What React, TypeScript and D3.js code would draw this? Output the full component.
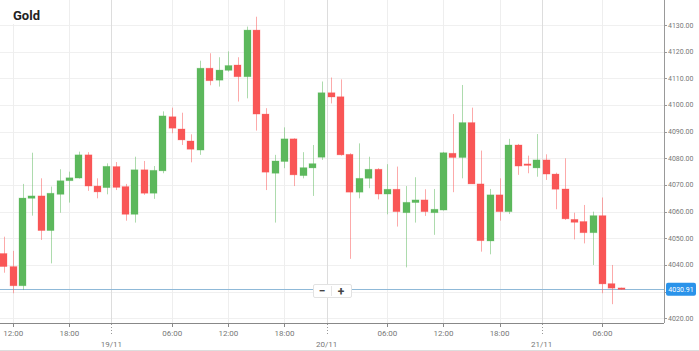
import React from 'react';
import * as d3 from 'd3';

// hourly candles, 18/11 11:00 -> 21/11 08:00 (22:00 is a market break)
const candleTimes = [
  '18/11 11:00', '18/11 12:00', '18/11 13:00', '18/11 14:00', '18/11 15:00', '18/11 16:00',
  '18/11 17:00', '18/11 18:00', '18/11 19:00', '18/11 20:00', '18/11 21:00', '18/11 23:00',
  '19/11 00:00', '19/11 01:00', '19/11 02:00', '19/11 03:00', '19/11 04:00', '19/11 05:00',
  '19/11 06:00', '19/11 07:00', '19/11 08:00', '19/11 09:00', '19/11 10:00', '19/11 11:00',
  '19/11 12:00', '19/11 13:00', '19/11 14:00', '19/11 15:00', '19/11 16:00', '19/11 17:00',
  '19/11 18:00', '19/11 19:00', '19/11 20:00', '19/11 21:00', '19/11 23:00',
  '20/11 00:00', '20/11 01:00', '20/11 02:00', '20/11 03:00', '20/11 04:00', '20/11 05:00',
  '20/11 06:00', '20/11 07:00', '20/11 08:00', '20/11 09:00', '20/11 10:00', '20/11 11:00',
  '20/11 12:00', '20/11 13:00', '20/11 14:00', '20/11 15:00', '20/11 16:00', '20/11 17:00',
  '20/11 18:00', '20/11 19:00', '20/11 20:00', '20/11 21:00', '20/11 23:00',
  '21/11 00:00', '21/11 01:00', '21/11 02:00', '21/11 03:00', '21/11 04:00', '21/11 05:00',
  '21/11 06:00', '21/11 07:00', '21/11 08:00'
];

const opens = [
  4044.3, 4039.4, 4032.2, 4065.0, 4065.9, 4052.9, 4066.5, 4071.6, 4072.6, 4081.3,
  4069.6, 4069.0, 4076.9, 4069.4, 4059.0, 4075.7, 4066.9, 4075.3, 4095.6, 4091.0,
  4086.5, 4083.1, 4113.8, 4109.3, 4113.0, 4115.0, 4110.6, 4128.1, 4096.6, 4074.4,
  4078.8, 4087.3, 4073.5, 4076.4, 4080.4, 4104.6, 4103.1, 4081.5, 4067.3, 4072.5,
  4075.9, 4066.6, 4068.4, 4059.6, 4063.4, 4064.4, 4059.6, 4060.6, 4081.9, 4080.3,
  4093.4, 4070.4, 4049.0, 4066.3, 4060.0, 4085.0, 4077.9, 4076.4, 4079.4, 4074.1,
  4068.5, 4057.1, 4056.3, 4052.1, 4058.5, 4033.0, 4031.4
];
const highs = [
  4050.6, 4045.3, 4070.4, 4082.1, 4072.5, 4069.4, 4075.9, 4075.0, 4082.5, 4082.3,
  4072.5, 4078.1, 4078.6, 4070.4, 4080.6, 4079.0, 4077.1, 4097.6, 4099.0, 4097.1,
  4089.0, 4116.6, 4119.4, 4117.9, 4120.1, 4117.9, 4129.4, 4133.1, 4098.8, 4081.3,
  4091.6, 4087.5, 4082.3, 4085.0, 4108.8, 4110.3, 4109.6, 4081.9, 4085.6, 4080.6,
  4076.3, 4077.8, 4076.9, 4069.6, 4072.9, 4068.4, 4068.5, 4082.4, 4096.6, 4107.5,
  4099.0, 4082.9, 4068.5, 4072.5, 4087.3, 4085.4, 4081.0, 4089.1, 4081.5, 4074.6,
  4080.0, 4059.6, 4062.5, 4060.0, 4065.3, 4040.0, 4031.5
];
const lows = [
  4037.1, 4029.4, 4030.6, 4058.5, 4049.4, 4040.6, 4059.6, 4063.4, 4072.4, 4067.8,
  4065.0, 4066.5, 4068.1, 4056.6, 4055.9, 4066.3, 4064.8, 4074.4, 4089.4, 4085.0,
  4078.5, 4081.3, 4107.4, 4106.9, 4112.5, 4101.3, 4102.5, 4090.4, 4068.1, 4055.9,
  4076.3, 4069.6, 4072.5, 4065.9, 4079.4, 4100.6, 4081.0, 4042.3, 4065.0, 4068.8,
  4064.6, 4059.0, 4054.4, 4039.1, 4055.9, 4058.4, 4051.3, 4060.4, 4067.3, 4072.5,
  4070.4, 4045.0, 4044.0, 4056.6, 4059.1, 4073.8, 4074.4, 4073.1, 4071.9, 4060.9,
  4056.9, 4049.6, 4048.1, 4040.0, 4029.4, 4025.3, 4030.7
];
const closes = [
  4039.4, 4032.2, 4065.1, 4065.9, 4052.9, 4066.9, 4071.6, 4072.7, 4081.3, 4069.6,
  4067.4, 4077.0, 4069.1, 4059.0, 4075.7, 4066.9, 4075.5, 4095.9, 4091.3, 4086.9,
  4083.4, 4113.8, 4109.1, 4113.1, 4114.8, 4110.6, 4128.1, 4096.6, 4074.8, 4079.0,
  4087.3, 4073.8, 4076.5, 4078.0, 4104.6, 4103.0, 4081.3, 4067.3, 4072.5, 4075.9,
  4066.6, 4068.4, 4060.0, 4063.5, 4064.4, 4060.0, 4060.9, 4082.1, 4080.3, 4093.4,
  4070.4, 4049.1, 4066.3, 4060.0, 4085.0, 4077.1, 4077.5, 4079.4, 4074.1, 4068.4,
  4057.3, 4056.0, 4052.1, 4058.5, 4032.9, 4031.3, 4030.91
];

const priceTicks = [4020, 4030, 4040, 4050, 4060, 4070, 4080, 4090, 4100, 4110, 4120, 4130];
const lastPrice = 4030.91;
const title = 'Gold';

const W = 699;
const H = 351;
const plotRight = 664;
const axisY = 323;

const UP = '#5cb85c';
const DOWN = '#f95656';

export default function App() {
  const x = d3.scaleLinear().domain([-0.42, 70.58]).range([0, plotRight]);
  const y = d3.scaleLinear().domain([4020, 4130]).range([318.3, 25]);
  const step = x(1) - x(0);
  const bodyW = Math.round(step * 0.7);

  const candles = candleTimes.map((t, i) => ({
    t, i, o: opens[i], h: highs[i], l: lows[i], c: closes[i]
  }));

  // hour ticks every 6h, date ticks halfway before the first candle of a day
  const hourTicks: { i: number; label: string }[] = [];
  const dateTicks: { i: number; label: string }[] = [];
  candleTimes.forEach((t, i) => {
    const [day, hm] = t.split(' ');
    const hour = +hm.slice(0, 2);
    if (hour === 0) dateTicks.push({ i: i - 0.5, label: day });
    else if (hour % 6 === 0) hourTicks.push({ i, label: hm });
  });

  const px = (v: number) => Math.round(v) + 0.5;
  const font = 'Roboto, "Open Sans", sans-serif';
  const tagY = y(lastPrice);

  return (
    <svg width={W} height={H} style={{ position: 'absolute', left: 0, top: 0, background: '#fff' }}>
      {/* grid */}
      {priceTicks.map(v => (
        <line key={'h' + v} x1={0} x2={plotRight} y1={px(y(v))} y2={px(y(v))} stroke="#f0f0f0" />
      ))}
      {hourTicks.map(d => (
        <line key={'v' + d.i} x1={px(x(d.i))} x2={px(x(d.i))} y1={0} y2={axisY} stroke="#eeeeee" />
      ))}
      {dateTicks.map(d => (
        <line key={'d' + d.i} x1={px(x(d.i))} x2={px(x(d.i))} y1={0} y2={axisY} stroke="#dddddd" />
      ))}

      {/* title */}
      <rect x={0} y={0} width={44} height={24} fill="#fff" />
      <text x={13} y={20} fontFamily={font} fontSize={13} fontWeight={700} fill="#222">{title}</text>

      {/* last price line */}
      <line x1={0} x2={plotRight} y1={px(tagY)} y2={px(tagY)} stroke="#8fb9d8" />

      {/* candles */}
      {candles.map(d => {
        const up = d.c >= d.o;
        const col = up ? UP : DOWN;
        const cx = x(d.i);
        const top = y(Math.max(d.o, d.c));
        const bot = y(Math.min(d.o, d.c));
        return (
          <g key={d.t}>
            <line x1={px(cx)} x2={px(cx)} y1={y(d.h)} y2={y(d.l)} stroke={col} strokeOpacity={0.5} />
            <rect
              x={Math.round(cx - bodyW / 2)}
              y={top}
              width={bodyW}
              height={Math.max(1.5, bot - top)}
              fill={col}
              stroke={col}
              strokeOpacity={0.35}
              strokeWidth={0.8}
            />
          </g>
        );
      })}

      {/* zoom control */}
      <g>
        <rect x={313.5} y={284.5} width={38} height={13} rx={1.5} fill="#fff" stroke="#e2e2e2" />
        <line x1={331.5} x2={331.5} y1={286} y2={296} stroke="#e6e6e6" />
        <text x={322} y={295} textAnchor="middle" fontFamily={font} fontSize={12} fontWeight={700} fill="#444">−</text>
        <text x={341} y={295.5} textAnchor="middle" fontFamily={font} fontSize={12} fontWeight={700} fill="#444">+</text>
      </g>

      {/* y axis */}
      <line x1={plotRight + 0.5} x2={plotRight + 0.5} y1={0} y2={axisY} stroke="#999" />
      {priceTicks.map(v => (
        <g key={'yt' + v}>
          <line x1={plotRight} x2={plotRight + 3} y1={px(y(v))} y2={px(y(v))} stroke="#999" />
          {Math.abs(y(v) - tagY) > 10 && (
            <text x={668} y={y(v) + 2.5} fontFamily={font} fontSize={7} fill="#777">{v.toFixed(2)}</text>
          )}
        </g>
      ))}
      <rect x={666} y={tagY - 6.5} width={30} height={13} rx={2} fill="#2a93ea" />
      <text x={681} y={tagY + 2.5} textAnchor="middle" fontFamily={font} fontSize={7} fill="#fff">
        {lastPrice.toFixed(2)}
      </text>

      {/* x axis */}
      <line x1={0} x2={plotRight} y1={axisY + 0.5} y2={axisY + 0.5} stroke="#888" />
      {hourTicks.map(d => (
        <g key={'xt' + d.i}>
          <line x1={px(x(d.i))} x2={px(x(d.i))} y1={axisY} y2={axisY + 4} stroke="#888" />
          <text x={x(d.i)} y={336} textAnchor="middle" fontFamily={font} fontSize={8} fill="#777">{d.label}</text>
        </g>
      ))}
      {dateTicks.map(d => (
        <g key={'xd' + d.i}>
          <line x1={px(x(d.i))} x2={px(x(d.i))} y1={axisY + 1} y2={axisY + 13} stroke="#999" strokeDasharray="1,2" />
          <text x={x(d.i)} y={347} textAnchor="middle" fontFamily={font} fontSize={8} fill="#777">{d.label}</text>
        </g>
      ))}
      <line x1={0} x2={W} y1={350.5} y2={350.5} stroke="#ddd" />
    </svg>
  );
}
